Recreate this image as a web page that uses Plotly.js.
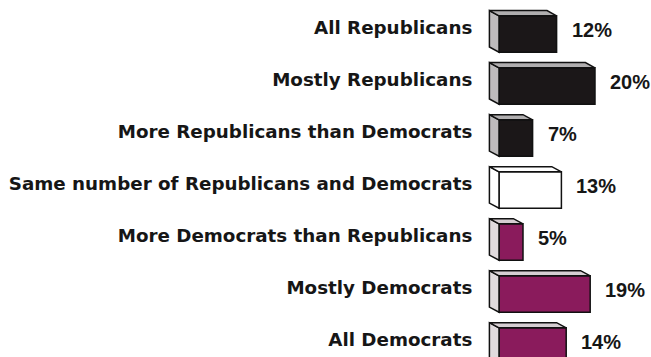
<!DOCTYPE html>
<html><head><meta charset="utf-8">
<script src="https://cdn.plot.ly/plotly-3.0.1.min.js"></script>
<style>html,body{margin:0;padding:0;background:#fff}#chart{width:651px;height:357px}</style>
</head><body><div id="chart"></div>
<script>
const categories = [
  "All Republicans",
  "Mostly Republicans",
  "More Republicans than Democrats",
  "Same number of Republicans and Democrats",
  "More Democrats than Republicans",
  "Mostly Democrats",
  "All Democrats"
];
const values = [12, 20, 7, 13, 5, 19, 14];
const valueLabels = ["12%", "20%", "7%", "13%", "5%", "19%", "14%"];
const groups = ["rep", "rep", "rep", "same", "dem", "dem", "dem"];

const frontColor = {rep: "#1b1718", same: "#ffffff", dem: "#8a1b5c"};
const sideColor = {rep: "#bdbbbc", same: "#ffffff", dem: "#e0dadd"};
const topColor = {rep: "#b0aeaf", same: "#ffffff", dem: "#d6ced2"};

const pos = categories.map((c, i) => i);
const barW = 0.70, dx = -2.0, dy = 0.10, labelLift = 0.13;

const shapes = [];
pos.forEach((p, i) => {
  const v = values[i], g = groups[i];
  const y0 = p - barW / 2, y1 = p + barW / 2;
  shapes.push({type: "path", xref: "x", yref: "y", layer: "above",
    path: `M 0 ${y0} L ${dx} ${y0 - dy} L ${dx} ${y1 - dy} L 0 ${y1} Z`,
    fillcolor: sideColor[g], line: {color: "#111", width: 1.5}});
  shapes.push({type: "path", xref: "x", yref: "y", layer: "above",
    path: `M 0 ${y0} L ${dx} ${y0 - dy} L ${v + dx} ${y0 - dy} L ${v} ${y0} Z`,
    fillcolor: topColor[g], line: {color: "#111", width: 1.5}});
});

const annotations = pos.map((p, i) => ({
  x: values[i], y: p - 0.07, xref: "x", yref: "y", text: valueLabels[i],
  showarrow: false, xanchor: "left", yanchor: "middle", xshift: 13,
  font: {family: "Liberation Sans, Arial, sans-serif", size: 20, color: "#161616", weight: "bold"}
}));

const trace = {
  type: "bar", orientation: "h", x: values, y: pos, width: barW,
  marker: {color: groups.map(g => frontColor[g]), line: {color: "#111", width: 1.5}},
  hoverinfo: "skip"
};

const layout = {
  width: 651, height: 357,
  margin: {l: 486, r: 0, t: 0, b: 0},
  paper_bgcolor: "#fff", plot_bgcolor: "#fff",
  showlegend: false,
  xaxis: {range: [-2.71, 31.67], visible: false, fixedrange: true},
  yaxis: {range: [6.21, -0.654], tickvals: pos.map(p => p - labelLift), ticktext: categories,
    showgrid: false, zeroline: false, showline: false, ticks: "outside", ticklen: 9,
    tickcolor: "rgba(0,0,0,0)", automargin: false,
    tickfont: {family: "DejaVu Sans, sans-serif", size: 18.3, color: "#161616", weight: "bold"}},
  shapes: shapes,
  annotations: annotations
};
Plotly.newPlot("chart", [trace], layout, {staticPlot: true, displayModeBar: false});
</script></body></html>
